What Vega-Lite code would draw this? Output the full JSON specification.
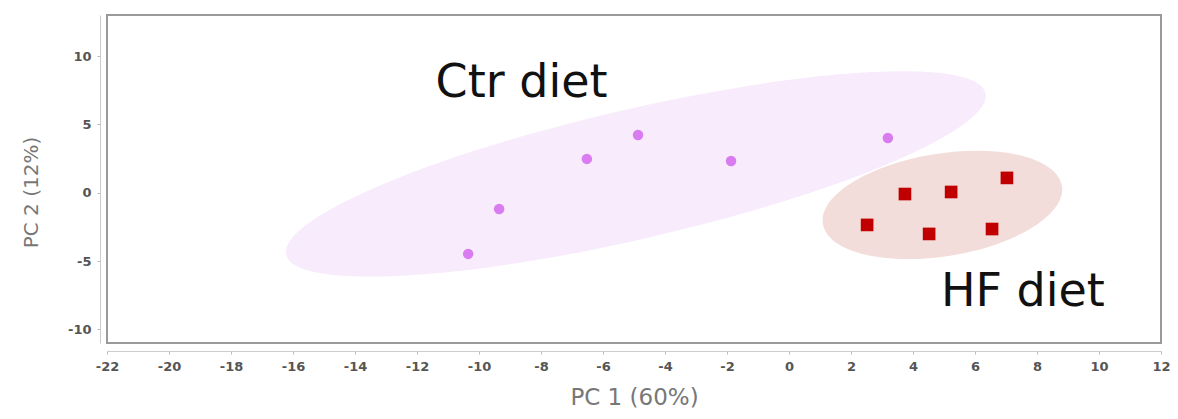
{
  "$schema": "https://vega.github.io/schema/vega-lite/v6.json",
  "width": 1054,
  "height": 328,
  "autosize": {"type": "none"},
  "padding": {"left": 107, "top": 15, "right": 17, "bottom": 76},
  "background": "white",
  "config": {
    "view": {"stroke": "#9a9a9a", "strokeWidth": 2},
    "axis": {
      "grid": false,
      "domainColor": "#cccccc",
      "tickColor": "#bbbbbb",
      "tickSize": 3,
      "labelFont": "DejaVu Sans",
      "labelFontWeight": "bold",
      "labelFontSize": 13,
      "labelColor": "#555555",
      "titleFont": "DejaVu Sans",
      "titleFontWeight": "normal",
      "titleColor": "#777777"
    }
  },
  "datasets": {
    "ellipses": [
      {"group": "Ctr", "pc1": -4.94, "pc2": 1.37},
      {"group": "HF", "pc1": 4.95, "pc2": -0.9}
    ],
    "samples": [
      {"group": "Ctr", "pc1": -10.35, "pc2": -4.48},
      {"group": "Ctr", "pc1": -9.35, "pc2": -1.19},
      {"group": "Ctr", "pc1": -6.52, "pc2": 2.47},
      {"group": "Ctr", "pc1": -4.87, "pc2": 4.22},
      {"group": "Ctr", "pc1": -1.87, "pc2": 2.32},
      {"group": "Ctr", "pc1": 3.19, "pc2": 4.0},
      {"group": "HF", "pc1": 2.52, "pc2": -2.36},
      {"group": "HF", "pc1": 3.74, "pc2": -0.1},
      {"group": "HF", "pc1": 5.23, "pc2": 0.05},
      {"group": "HF", "pc1": 7.03, "pc2": 1.08},
      {"group": "HF", "pc1": 4.52, "pc2": -3.02},
      {"group": "HF", "pc1": 6.55, "pc2": -2.66}
    ],
    "labels": [
      {"label": "Ctr diet", "pc1": -11.4, "pc2": 7.0},
      {"label": "HF diet", "pc1": 4.9, "pc2": -8.3}
    ]
  },
  "encoding": {
    "x": {
      "field": "pc1", "type": "quantitative",
      "scale": {"domain": [-22, 12], "nice": false, "zero": false},
      "axis": {
        "title": "PC 1 (60%)",
        "values": [-22, -20, -18, -16, -14, -12, -10, -8, -6, -4, -2, 0, 2, 4, 6, 8, 10, 12],
        "labelExpr": "toString(datum.value)",
        "offset": 8,
        "labelPadding": 6,
        "titleFontSize": 23,
        "titlePadding": 13,
        "labelFlush": false
      }
    },
    "y": {
      "field": "pc2", "type": "quantitative",
      "scale": {"domain": [-11, 13], "nice": false, "zero": false},
      "axis": {
        "title": "PC 2 (12%)",
        "values": [-10, -5, 0, 5, 10],
        "labelExpr": "toString(datum.value)",
        "offset": 7,
        "labelPadding": 6,
        "titleFontSize": 20,
        "titlePadding": 26,
        "titleY": 177
      }
    }
  },
  "layer": [
    {
      "data": {"name": "ellipses"},
      "transform": [{"filter": "datum.group === 'Ctr'"}],
      "mark": {
        "type": "point",
        "shape": "M -1 0 C -1 -0.1 -0.5523 -0.181 0 -0.181 C 0.5523 -0.181 1 -0.1 1 0 C 1 0.1 0.5523 0.181 0 0.181 C -0.5523 0.181 -1 0.1 -1 0 Z",
        "size": 515000,
        "angle": 347,
        "filled": true,
        "fill": "#f7ebfc",
        "opacity": 1,
        "strokeWidth": 0
      }
    },
    {
      "data": {"name": "ellipses"},
      "transform": [{"filter": "datum.group === 'HF'"}],
      "mark": {
        "type": "point",
        "shape": "M -1 0 C -1 -0.234 -0.5523 -0.424 0 -0.424 C 0.5523 -0.424 1 -0.234 1 0 C 1 0.234 0.5523 0.424 0 0.424 C -0.5523 0.424 -1 0.234 -1 0 Z",
        "size": 58564,
        "angle": 351,
        "filled": true,
        "fill": "#f3ddda",
        "opacity": 1,
        "strokeWidth": 0
      }
    },
    {
      "data": {"name": "samples"},
      "transform": [{"filter": "datum.group === 'Ctr'"}],
      "mark": {"type": "point", "shape": "circle", "size": 110, "filled": true, "fill": "#d97cf0", "opacity": 1, "strokeWidth": 0}
    },
    {
      "data": {"name": "samples"},
      "transform": [{"filter": "datum.group === 'HF'"}],
      "mark": {"type": "point", "shape": "square", "size": 160, "filled": true, "fill": "#c00000", "opacity": 1, "strokeWidth": 0}
    },
    {
      "data": {"name": "labels"},
      "mark": {"type": "text", "align": "left", "baseline": "alphabetic", "font": "DejaVu Sans", "fontSize": 46, "color": "#111111"},
      "encoding": {"text": {"field": "label"}}
    }
  ]
}
